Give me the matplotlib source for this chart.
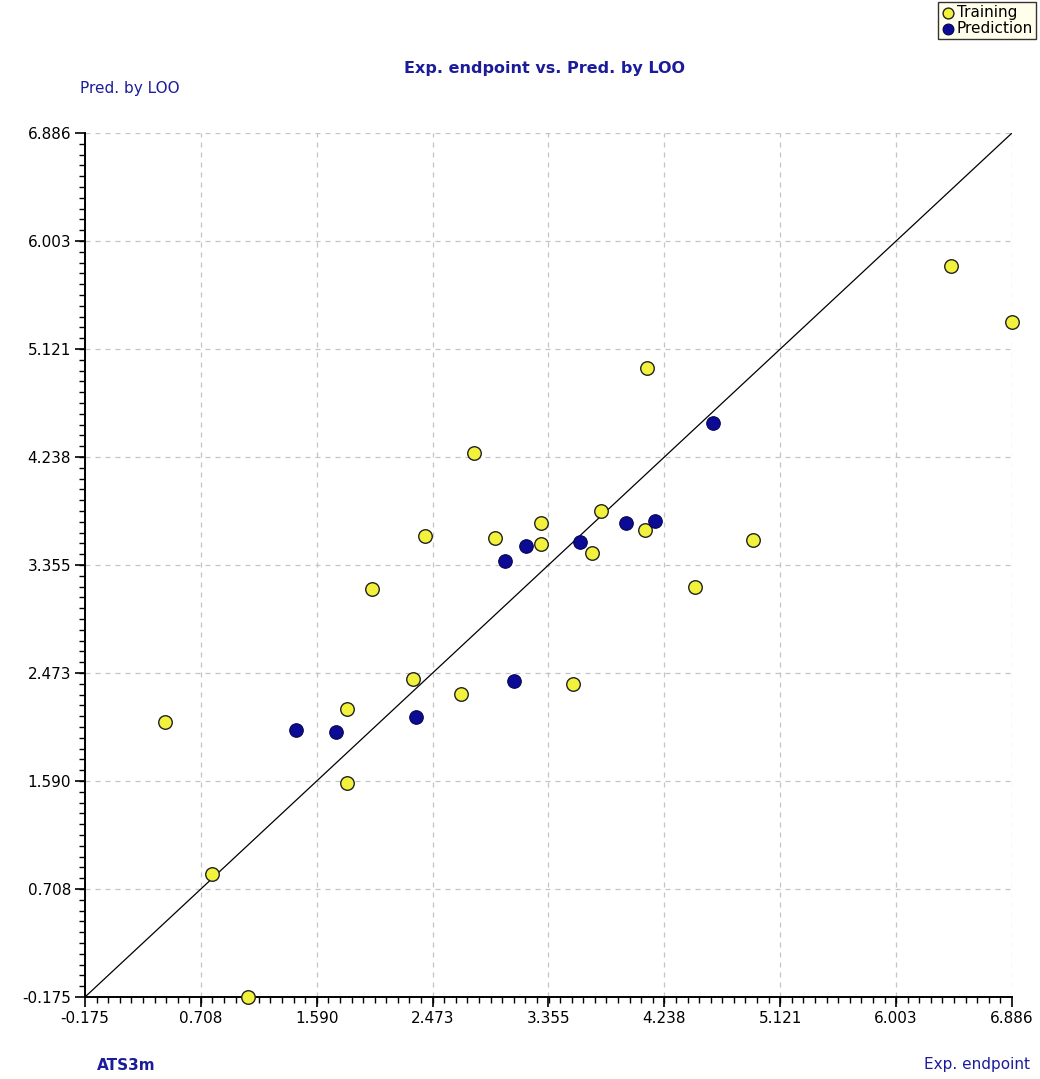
import matplotlib
matplotlib.use("Agg")
import matplotlib.pyplot as plt
from matplotlib.ticker import FixedLocator
import numpy as np

ticks = [-0.175, 0.708, 1.590, 2.473, 3.355, 4.238, 5.121, 6.003, 6.886]
tick_labels = ["-0.175", "0.708", "1.590", "2.473", "3.355", "4.238", "5.121", "6.003", "6.886"]

train_x = [0.434, 0.795, 1.066, 1.818, 1.818, 2.011, 2.325, 2.414, 2.689, 2.788,
           2.948, 3.296, 3.296, 3.539, 3.686, 3.757, 4.090, 4.105, 4.468, 4.915,
           6.421, 6.885]
train_y = [2.069, 0.830, -0.175, 2.180, 1.576, 3.158, 2.426, 3.591, 2.300, 4.272,
           3.578, 3.700, 3.526, 2.382, 3.450, 3.793, 3.638, 4.964, 3.172, 3.559,
           5.797, 5.340]

pred_x = [1.432, 1.734, 2.344, 3.024, 3.095, 3.181, 3.597, 3.945, 4.166, 4.610]
pred_y = [2.006, 1.990, 2.115, 3.385, 2.409, 3.512, 3.540, 3.700, 3.714, 4.517]

lo, hi = ticks[0], ticks[-1]
text_blue = "#1c1c9a"

fig = plt.figure(figsize=(10.40, 10.79), dpi=100)
ax = fig.add_axes([85/1040, 1-997/1079, (1012-85)/1040, (997-133)/1079])

ax.set_xlim(lo, hi)
ax.set_ylim(lo, hi)

ax.plot([lo, hi], [lo, hi], color="black", lw=0.9, zorder=2)

ax.scatter(train_x, train_y, s=95, c="#f2f23c", edgecolors="#222222", linewidths=1.0,
           zorder=4, clip_on=False, label="Training")
ax.scatter(pred_x, pred_y, s=95, c="#0b0b96", edgecolors="#050550", linewidths=0.8,
           zorder=4, clip_on=False, label="Prediction")

ax.xaxis.set_major_locator(FixedLocator(ticks))
ax.yaxis.set_major_locator(FixedLocator(ticks))
minor = list(np.linspace(lo, hi, 81))
ax.xaxis.set_minor_locator(FixedLocator(minor))
ax.yaxis.set_minor_locator(FixedLocator(minor))
ax.set_xticklabels(tick_labels)
ax.set_yticklabels(tick_labels)

ax.tick_params(axis="both", which="major", length=7, width=1.2, direction="out",
               labelsize=11, colors="black", pad=3)
ax.tick_params(axis="both", which="minor", length=4, width=1.0, direction="out")

ax.grid(True, which="major", linestyle=(0, (4, 4)), color="#c4c4c4", lw=0.9, zorder=0)
ax.spines["top"].set_visible(False)
ax.spines["right"].set_visible(False)
ax.spines["left"].set_linewidth(1.4)
ax.spines["bottom"].set_linewidth(1.4)
ax.set_axisbelow(True)

fig.text(545/1040, 1-68/1079, "Exp. endpoint vs. Pred. by LOO", ha="center", va="center",
         fontsize=11.5, fontweight="bold", color=text_blue)
fig.text(80/1040, 1-88/1079, "Pred. by LOO", ha="left", va="center",
         fontsize=11, color=text_blue)
fig.text(97/1040, 1-1065/1079, "ATS3m", ha="left", va="center",
         fontsize=11, fontweight="bold", color=text_blue)
fig.text(1030/1040, 1-1065/1079, "Exp. endpoint", ha="right", va="center",
         fontsize=11, color=text_blue)

leg = fig.legend(loc="upper right", bbox_to_anchor=(1036/1040, 1-2/1079),
                 frameon=True, fancybox=False, fontsize=11, handletextpad=0.1,
                 borderpad=0.2, labelspacing=0.05, handlelength=0.9, markerscale=0.8,
                 borderaxespad=0)
leg.get_frame().set_edgecolor("black")
leg.get_frame().set_facecolor("#ffffe6")
leg.get_frame().set_linewidth(1.0)

fig.savefig("out.png", dpi=100)
